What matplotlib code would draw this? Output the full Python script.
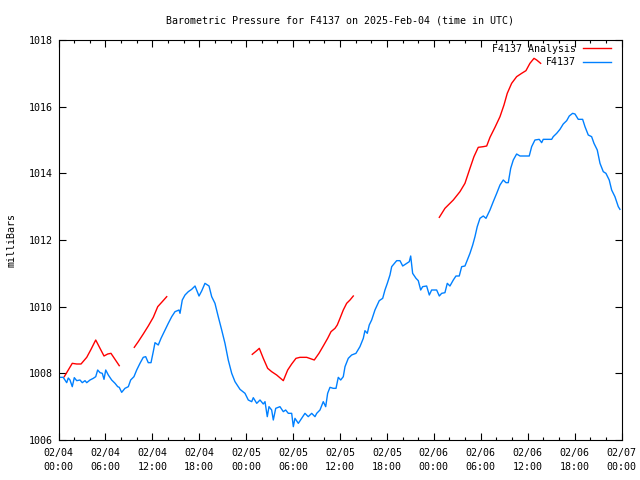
#!/usr/bin/env python3

import numpy as np
import matplotlib
matplotlib.use('Agg')
import matplotlib.pyplot as plt
import matplotlib.dates as mdates
from datetime import datetime, timedelta

START = datetime(2025, 2, 4)

# Station readings: hours since 2025-02-04 00:00 UTC, pressure in mbar
obs_hours = [0.0, 0.6, 1.05, 1.25, 1.47, 1.76, 2.02, 2.33, 2.75, 3.04, 3.39, 3.61, 4.03, 4.45,
             4.76, 5.01, 5.31, 5.6, 5.82, 6.04, 6.37, 6.8, 7.23, 7.57, 7.77, 8.08, 8.5, 8.93,
             9.23, 9.65, 10.0, 10.42, 10.84, 11.15, 11.48, 11.83, 12.12, 12.34, 12.76, 13.11,
             13.62, 14.04, 14.48, 14.9, 15.41, 15.54, 15.83, 16.18, 16.6, 17.03, 17.46, 17.97,
             18.31, 18.73, 19.25, 19.59, 20.01, 20.43, 20.87, 21.29, 21.71, 22.15, 22.57, 23.21,
             23.85, 24.27, 24.71, 24.91, 25.35, 25.77, 26.19, 26.41, 26.7, 26.92, 27.26, 27.47,
             27.78, 28.32, 28.75, 29.05, 29.39, 29.82, 30.03, 30.24, 30.67, 31.1, 31.52, 31.94,
             32.38, 32.8, 33.02, 33.44, 33.86, 34.17, 34.42, 34.72, 35.14, 35.49, 35.78, 36.09,
             36.42, 36.64, 37.06, 37.49, 38.04, 38.55, 38.98, 39.19, 39.49, 39.74, 40.05, 40.47,
             41.02, 41.46, 41.75, 42.05, 42.39, 42.61, 43.25, 43.67, 44.02, 44.53, 44.86, 45.04,
             45.29, 45.72, 46.01, 46.32, 46.57, 47.08, 47.42, 47.72, 48.36, 48.7, 49.0, 49.42,
             49.72, 50.06, 50.49, 50.83, 51.25, 51.56, 51.98, 52.28, 52.62, 52.97, 53.26, 53.55,
             53.9, 54.32, 54.67, 55.18, 55.6, 56.04, 56.46, 56.88, 57.23, 57.52, 57.83, 58.16,
             58.59, 59.02, 60.2, 60.51, 60.93, 61.48, 61.79, 61.99, 63.07, 63.27, 63.71, 64.13,
             64.55, 64.99, 65.32, 65.75, 66.05, 66.47, 67.03, 67.33, 67.75, 68.18, 68.48, 68.9,
             69.25, 69.67, 70.01, 70.43, 70.74, 71.16, 71.59, 71.8]
obs_mbar = [1007.88, 1007.88, 1007.72, 1007.86, 1007.8, 1007.6, 1007.87, 1007.78, 1007.8, 1007.72,
            1007.78, 1007.72, 1007.8, 1007.85, 1007.9, 1008.1, 1008.02, 1008.0, 1007.82, 1008.1,
            1007.95, 1007.8, 1007.7, 1007.6, 1007.58, 1007.43, 1007.55, 1007.6, 1007.8, 1007.9,
            1008.1, 1008.3, 1008.48, 1008.5, 1008.32, 1008.32, 1008.65, 1008.92, 1008.85, 1009.05,
            1009.3, 1009.5, 1009.7, 1009.85, 1009.9, 1009.8, 1010.2, 1010.35, 1010.45, 1010.52,
            1010.62, 1010.32, 1010.47, 1010.7, 1010.62, 1010.3, 1010.1, 1009.7, 1009.3, 1008.9,
            1008.4, 1008.0, 1007.75, 1007.52, 1007.4, 1007.2, 1007.15, 1007.27, 1007.1, 1007.2,
            1007.08, 1007.15, 1006.7, 1007.0, 1006.9, 1006.6, 1006.95, 1007.0, 1006.85, 1006.9,
            1006.8, 1006.8, 1006.4, 1006.65, 1006.5, 1006.65, 1006.8, 1006.7, 1006.8, 1006.7,
            1006.8, 1006.9, 1007.15, 1007.0, 1007.4, 1007.58, 1007.55, 1007.55, 1007.88, 1007.8,
            1007.9, 1008.2, 1008.45, 1008.55, 1008.6, 1008.8, 1009.05, 1009.28, 1009.2, 1009.45,
            1009.6, 1009.9, 1010.18, 1010.25, 1010.5, 1010.7, 1010.95, 1011.2, 1011.38, 1011.38,
            1011.22, 1011.3, 1011.35, 1011.52, 1011.0, 1010.85, 1010.78, 1010.5, 1010.6, 1010.62,
            1010.35, 1010.5, 1010.5, 1010.32, 1010.4, 1010.42, 1010.7, 1010.62, 1010.8, 1010.92,
            1010.92, 1011.2, 1011.22, 1011.4, 1011.6, 1011.85, 1012.1, 1012.4, 1012.65, 1012.72,
            1012.65, 1012.9, 1013.15, 1013.4, 1013.65, 1013.8, 1013.72, 1013.72, 1014.15, 1014.4,
            1014.58, 1014.52, 1014.52, 1014.8, 1015.0, 1015.02, 1014.92, 1015.02, 1015.02, 1015.1,
            1015.2, 1015.32, 1015.48, 1015.58, 1015.72, 1015.8, 1015.78, 1015.62, 1015.62, 1015.4,
            1015.15, 1015.1, 1014.9, 1014.7, 1014.3, 1014.05, 1014.0, 1013.8, 1013.5, 1013.3,
            1013.0, 1012.92]

# Analysis: four separate runs, NaN marks the gaps
ana_hours = [0.74, 1.25, 1.76, 2.33, 2.88, 3.61, 4.16, 4.76, 5.31, 5.82, 6.29, 6.71, 7.14, 7.77,
             8.7,
             9.69, 10.2, 10.84, 11.48, 12.12, 12.69, 13.27, 13.84,
             19.0,
             24.78, 25.35, 25.68, 26.19, 26.75, 27.26, 27.9, 28.75, 29.31, 29.82, 30.37, 30.88,
             31.74, 32.71, 33.31, 33.86, 34.42, 34.85, 35.36, 35.65, 36.0, 36.42, 36.85, 37.28,
             37.7,
             43.0,
             48.7, 49.42, 50.49, 51.34, 51.98, 52.62, 53.13, 53.68, 54.32, 54.76, 55.18, 55.82,
             56.46, 56.97, 57.39, 57.95, 58.59, 59.23, 59.78, 60.29, 60.81, 61.15, 61.66]
ana_mbar = [1007.9, 1008.1, 1008.3, 1008.28, 1008.28, 1008.48, 1008.72, 1009.0, 1008.75, 1008.52,
            1008.58, 1008.6, 1008.45, 1008.23,
            np.nan,
            1008.78, 1008.95, 1009.18, 1009.42, 1009.68, 1010.0, 1010.15, 1010.3,
            np.nan,
            1008.57, 1008.68, 1008.75, 1008.45, 1008.15, 1008.05, 1007.95, 1007.78, 1008.1,
            1008.28, 1008.45, 1008.48, 1008.48, 1008.4, 1008.6, 1008.82, 1009.05, 1009.25,
            1009.35, 1009.45, 1009.65, 1009.9, 1010.1, 1010.2, 1010.32,
            np.nan,
            1012.68, 1012.95, 1013.2, 1013.45, 1013.7, 1014.15, 1014.5, 1014.78, 1014.8, 1014.82,
            1015.08, 1015.38, 1015.7, 1016.05, 1016.4, 1016.7, 1016.9, 1017.0, 1017.08, 1017.3,
            1017.45, 1017.4, 1017.3]

FS = 7.2
plt.rcParams['font.family'] = 'DejaVu Sans Mono'
plt.rcParams['font.size'] = FS

fig = plt.figure(figsize=(6.4, 4.8), dpi=100)
ax = fig.add_axes([58.5 / 640, 40 / 480, 563 / 640, 400 / 480])

ana_t = [START + timedelta(hours=h) for h in ana_hours]
obs_t = [START + timedelta(hours=h) for h in obs_hours]
ax.plot(ana_t, ana_mbar, color='#ff0000', lw=1, label='F4137 Analysis')
ax.plot(obs_t, obs_mbar, color='#0080ff', lw=1, label='F4137')

ax.set_xlim(START, START + timedelta(hours=72))
ax.set_ylim(1006, 1018)
ax.set_yticks(np.arange(1006, 1019, 2))
ax.xaxis.set_major_locator(mdates.HourLocator(byhour=[0, 6, 12, 18]))
ax.xaxis.set_minor_locator(mdates.HourLocator(interval=2))
ax.xaxis.set_major_formatter(mdates.DateFormatter('%m/%d\n%H:%M'))

ax.tick_params(which='major', direction='in', length=5, width=0.8, top=True, right=True,
               labelsize=FS, pad=4)
ax.tick_params(axis='x', which='major', pad=6)
ax.tick_params(which='minor', direction='in', length=2.5, width=0.8, top=True, right=False)
ax.tick_params(axis='y', which='minor', left=False, right=False)
for lbl in ax.get_xticklabels():
    lbl.set_linespacing(1.45)
for s in ax.spines.values():
    s.set_linewidth(0.8)

ax.set_ylabel('milliBars', fontsize=FS, labelpad=9)
ax.set_title('Barometric Pressure for F4137 on 2025-Feb-04 (time in UTC)', fontsize=FS, pad=12)

ax.legend(loc='upper right', bbox_to_anchor=(0.9805, 0.99), frameon=False, markerfirst=False,
          fontsize=FS, handlelength=2.8, handletextpad=0.7, labelspacing=0.35,
          borderaxespad=0, borderpad=0)

fig.savefig('out.png', dpi=100)
